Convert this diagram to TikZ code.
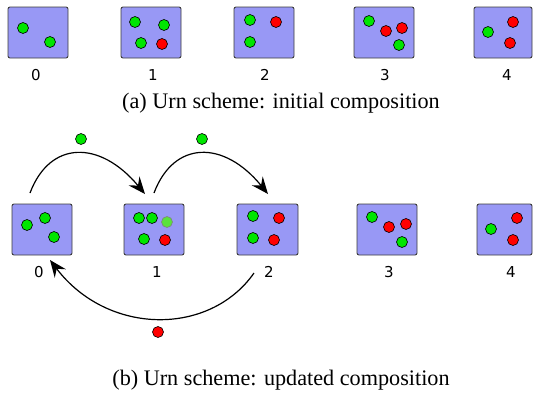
\documentclass[tikz,border=0pt]{standalone}
\usepackage{fontspec}
\setmainfont{Liberation Serif}
\newfontfamily\digitfont{DejaVu Sans}
\usetikzlibrary{arrows.meta}
\definecolor{urnfill}{RGB}{152,152,245}
\definecolor{urnedge}{RGB}{60,60,60}
\definecolor{ballgreen}{RGB}{0,230,0}
\definecolor{ballred}{RGB}{255,0,0}
\definecolor{balllight}{RGB}{90,225,60}
\tikzset{
  urn/.style={draw=urnedge, fill=urnfill, line width=0.9pt, rounded corners=2pt},
  gball/.style={circle, draw=black, fill=ballgreen, line width=0.6pt, minimum size=11pt, inner sep=0pt},
  rball/.style={circle, draw=black, fill=ballred, line width=0.6pt, minimum size=11pt, inner sep=0pt},
  lball/.style={circle, draw=gray, fill=balllight, line width=0.6pt, minimum size=11pt, inner sep=0pt},
  lbl/.style={font=\digitfont\fontsize{15}{18}\selectfont, inner sep=0pt},
  captext/.style={font=\fontsize{22.2}{26}\selectfont, inner sep=0pt},
  flow/.style={line width=1.2pt, -{Stealth[length=17pt,width=14pt,inset=6pt]}}
}
\begin{document}
\begin{tikzpicture}[x=1pt,y=-1pt]
\useasboundingbox (0,0) rectangle (533,397);
% ---- top row
\draw[urn] (8,7) rectangle (68,58);
\draw[urn] (121,7) rectangle (181,58);
\draw[urn] (234,7) rectangle (294,58);
\draw[urn] (354,7) rectangle (414,58);
\draw[urn] (474,7) rectangle (532,58);
\node[gball] (a0g1) at (23,28) {};
\node[gball] (a0g2) at (50,42) {};
\node[gball] (a1g1) at (135,22) {};
\node[gball] (a1g2) at (164,25) {};
\node[gball] (a1g3) at (141,43) {};
\node[rball] (a1r1) at (162,44) {};
\node[gball] (a2g1) at (250,20) {};
\node[rball] (a2r1) at (276,22) {};
\node[gball] (a2g2) at (250,42) {};
\node[gball] (a3g1) at (369,21) {};
\node[rball] (a3r1) at (386,31) {};
\node[rball] (a3r2) at (402,28) {};
\node[gball] (a3g2) at (399,45) {};
\node[gball] (a4g1) at (488,32) {};
\node[rball] (a4r1) at (513,22) {};
\node[rball] (a4r2) at (510,43) {};
\node[lbl] (al0) at (36,75) {0};
\node[lbl] (al1) at (153,75) {1};
\node[lbl] (al2) at (265,75) {2};
\node[lbl] (al3) at (385,75) {3};
\node[lbl] (al4) at (507,75) {4};
\node[captext] (capa) at (281,103) {(a) Urn scheme: initial composition};
% ---- bottom row
\draw[urn] (12,204) rectangle (72,255);
\draw[urn] (124,204) rectangle (184,255);
\draw[urn] (237,204) rectangle (298,255);
\draw[urn] (357,204) rectangle (417,255);
\draw[urn] (477,204) rectangle (532,255);
\node[gball] (b0g1) at (27,225) {};
\node[gball] (b0g2) at (45,218) {};
\node[gball] (b0g3) at (54,237) {};
\node[gball] (b1g1) at (139,218) {};
\node[gball] (b1g2) at (152,218) {};
\node[lball] (b1l1) at (167,222) {};
\node[gball] (b1g3) at (144,239) {};
\node[rball] (b1r1) at (165,240) {};
\node[gball] (b2g1) at (253,216) {};
\node[rball] (b2r1) at (279,218) {};
\node[gball] (b2g2) at (253,238) {};
\node[rball] (b2r2) at (274,240) {};
\node[gball] (b3g1) at (372,217) {};
\node[rball] (b3r1) at (389,227) {};
\node[rball] (b3r2) at (406,224) {};
\node[gball] (b3g2) at (402,242) {};
\node[gball] (b4g1) at (491,229) {};
\node[rball] (b4r1) at (517,218) {};
\node[rball] (b4r2) at (513,240) {};
\node[lbl] (bl0) at (39,272) {0};
\node[lbl] (bl1) at (157,272) {1};
\node[lbl] (bl2) at (269,272) {2};
\node[lbl] (bl3) at (389,272) {3};
\node[lbl] (bl4) at (511,272) {4};
% moving balls
\node[gball] (m1) at (81,139) {};
\node[gball] (m2) at (202,139) {};
\node[rball] (m3) at (158,332) {};
% arrow anchors
\coordinate (s1) at (30,193);
\coordinate (e1) at (145,194);
\coordinate (s2) at (154,193);
\coordinate (e2) at (268,194);
\coordinate (s3) at (254,273);
\coordinate (e3) at (50,260);
\draw[flow] (s1) .. controls (50,140) and (100,140) .. (e1);
\draw[flow] (s2) .. controls (174,140) and (224,140) .. (e2);
\draw[flow] (s3) .. controls (210,336) and (108,336) .. (e3);
\node[captext] (capb) at (281,380) {(b) Urn scheme: updated composition};
\end{tikzpicture}
\end{document}
